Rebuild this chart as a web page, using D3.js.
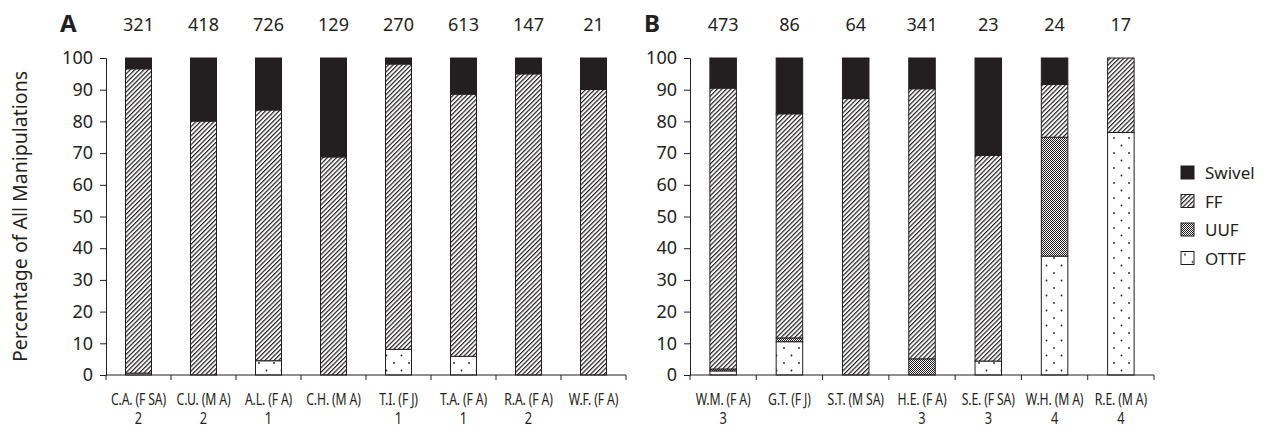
<!DOCTYPE html>
<html>
<head>
<meta charset="utf-8">
<script src="https://cdn.jsdelivr.net/npm/d3@7"></script>
<style>
  body { margin: 0; background: #fff; }
  text { font-family: "Noto Sans", sans-serif; fill: #231f20; }
</style>
</head>
<body>
<svg id="chart"></svg>
<script>
// panel A
const catsA = ["C.A. (F SA)", "C.U. (M A)", "A.L. (F A)", "C.H. (M A)", "T.I. (F J)", "T.A. (F A)", "R.A. (F A)", "W.F. (F A)"];
const groupA = ["2", "2", "1", "", "1", "1", "2", ""];
const countA = [321, 418, 726, 129, 270, 613, 147, 21];
const ottfA = [0.6, 0, 4.5, 0, 8.1, 5.9, 0, 0];
const uufA = [0, 0, 0, 0, 0, 0, 0, 0];
const ffA = [96.0, 80.1, 79.1, 68.8, 90.0, 82.7, 95.0, 90.1];
const swivelA = [3.4, 19.9, 16.4, 31.2, 1.9, 11.4, 5.0, 9.9];

// panel B
const catsB = ["W.M. (F A)", "G.T. (F J)", "S.T. (M SA)", "H.E. (F A)", "S.E. (F SA)", "W.H. (M A)", "R.E. (M A)"];
const groupB = ["3", "", "", "3", "3", "4", "4"];
const countB = [473, 86, 64, 341, 23, 24, 17];
const ottfB = [1.3, 10.5, 0, 0, 4.4, 37.5, 76.5];
const uufB = [0.6, 1.2, 0, 5.1, 0, 37.5, 0];
const ffB = [88.6, 70.7, 87.2, 85.2, 64.9, 16.7, 23.5];
const swivelB = [9.5, 17.6, 12.8, 9.7, 30.7, 8.3, 0];

const keys = ["OTTF", "UUF", "FF", "Swivel"];
const legendKeys = ["Swivel", "FF", "UUF", "OTTF"];
const yTicks = [0, 10, 20, 30, 40, 50, 60, 70, 80, 90, 100];

const width = 1267, height = 431;
const ink = "#231f20";

const svg = d3.select("#chart").attr("width", width).attr("height", height);
const defs = svg.append("defs");

// FF: diagonal hatch
const ff = defs.append("pattern").attr("id", "pat-FF")
  .attr("patternUnits", "userSpaceOnUse").attr("width", 3.2).attr("height", 10)
  .attr("patternTransform", "rotate(45)");
ff.append("rect").attr("width", 3.2).attr("height", 10).attr("fill", "#fff");
ff.append("line").attr("x1", 0.6).attr("x2", 0.6).attr("y1", 0).attr("y2", 10)
  .attr("stroke", ink).attr("stroke-width", 1.2);

// UUF: fine checker
const uuf = defs.append("pattern").attr("id", "pat-UUF")
  .attr("patternUnits", "userSpaceOnUse").attr("width", 2).attr("height", 2);
uuf.append("rect").attr("width", 2).attr("height", 2).attr("fill", "#fff");
uuf.append("rect").attr("width", 1).attr("height", 1).attr("fill", ink);
uuf.append("rect").attr("x", 1).attr("y", 1).attr("width", 1).attr("height", 1).attr("fill", ink);

// OTTF: sparse dots
const ottf = defs.append("pattern").attr("id", "pat-OTTF")
  .attr("patternUnits", "userSpaceOnUse").attr("width", 15).attr("height", 15)
  .attr("x", 3).attr("y", 2);
ottf.append("rect").attr("width", 15).attr("height", 15).attr("fill", "#fff");
ottf.append("circle").attr("cx", 1).attr("cy", 1).attr("r", 0.9).attr("fill", ink);
ottf.append("circle").attr("cx", 8.5).attr("cy", 8.5).attr("r", 0.9).attr("fill", ink);

const fills = { Swivel: ink, FF: "url(#pat-FF)", UUF: "url(#pat-UUF)", OTTF: "url(#pat-OTTF)" };

const yTop = 58, yBottom = 375;
const y = d3.scaleLinear().domain([0, 100]).range([yBottom, yTop]);

function panel(letter, cats, groups, counts, ottfV, uufV, ffV, swV, x0, x1, letterX) {
  const rows = cats.map((c, i) => ({ cat: c, OTTF: ottfV[i], UUF: uufV[i], FF: ffV[i], Swivel: swV[i] }));
  const x = d3.scaleBand().domain(cats).range([x0, x1]).paddingInner(0.6).paddingOuter(0.3);
  const g = svg.append("g");
  const series = d3.stack().keys(keys)(rows);

  g.selectAll("g.series").data(series).join("g")
    .attr("fill", d => fills[d.key])
    .selectAll("rect").data(d => d.filter(s => s[1] - s[0] > 0)).join("rect")
    .attr("x", d => x(d.data.cat))
    .attr("width", x.bandwidth())
    .attr("y", d => y(d[1]))
    .attr("height", d => y(d[0]) - y(d[1]))
    .attr("stroke", ink).attr("stroke-width", 1);

  // y axis
  const yAxis = g.append("g").attr("transform", `translate(${x0},0)`)
    .call(d3.axisLeft(y).tickValues(yTicks).tickSize(6).tickPadding(7));
  yAxis.select(".domain").attr("stroke", ink);
  yAxis.selectAll(".tick line").attr("stroke", ink);
  yAxis.selectAll("text").style("font-size", "18px").style("font-family", "Noto Sans").attr("fill", ink);

  // x axis: ticks on band boundaries
  const step = x.step();
  g.append("line").attr("x1", x0).attr("x2", x1).attr("y1", yBottom).attr("y2", yBottom)
    .attr("stroke", ink);
  const bounds = d3.range(cats.length + 1).map(i => x0 + i * step);
  g.selectAll("line.xt").data(bounds).join("line").attr("class", "xt")
    .attr("x1", d => d).attr("x2", d => d).attr("y1", yBottom).attr("y2", yBottom + 5)
    .attr("stroke", ink);

  // condensed category labels
  const cx = c => x(c) + x.bandwidth() / 2;
  g.selectAll("text.cat").data(cats).join("text").attr("class", "cat")
    .attr("transform", d => `translate(${cx(d)},405) scale(0.72,1)`)
    .attr("text-anchor", "middle").style("font-size", "17px").style("letter-spacing", "-0.2px")
    .text(d => d);
  g.selectAll("text.grp").data(cats).join("text").attr("class", "grp")
    .attr("transform", d => `translate(${cx(d)},424) scale(0.8,1)`)
    .attr("text-anchor", "middle").style("font-size", "16px")
    .text((d, i) => groups[i]);
  g.selectAll("text.cnt").data(cats).join("text").attr("class", "cnt")
    .attr("x", cx).attr("y", 31).attr("text-anchor", "middle")
    .style("font-size", "18px").text((d, i) => counts[i]);

  g.append("text").attr("x", letterX).attr("y", 32)
    .style("font-size", "24px").style("font-weight", "bold").text(letter);
}

panel("A", catsA, groupA, countA, ottfA, uufA, ffA, swivelA, 106, 626, 60);
panel("B", catsB, groupB, countB, ottfB, uufB, ffB, swivelB, 690, 1154, 644);

// y title
svg.append("text")
  .attr("transform", `translate(27,${(yTop + yBottom) / 2}) rotate(-90)`)
  .attr("text-anchor", "middle")
  .style("font-size", "19.5px")
  .text("Percentage of All Manipulations");

// legend
const legend = svg.append("g").attr("transform", "translate(1181,166)");
const li = legend.selectAll("g").data(legendKeys).join("g")
  .attr("transform", (d, i) => `translate(0,${i * 28.5})`);
li.append("rect").attr("width", 13).attr("height", 13)
  .attr("fill", d => fills[d]).attr("stroke", ink).attr("stroke-width", 1);
li.append("text").attr("x", 24).attr("y", 13).style("font-size", "17px").text(d => d);
</script>
</body>
</html>
